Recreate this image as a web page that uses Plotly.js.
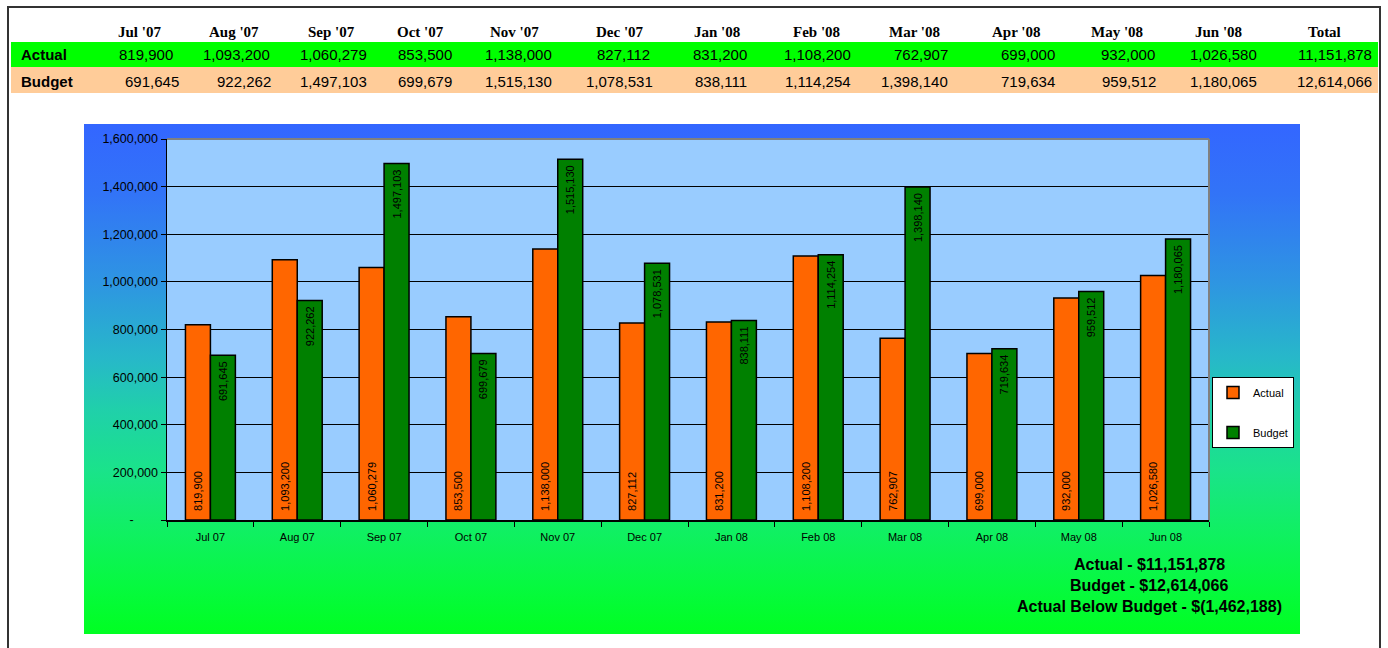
<!DOCTYPE html>
<html>
<head>
<meta charset="utf-8">
<script src="https://cdn.plot.ly/plotly-3.0.1.min.js"></script>
<style>
  html, body { margin: 0; padding: 0; background: #ffffff; }
  #wrap { position: relative; width: 1388px; height: 648px; overflow: hidden; background: #ffffff; }
  #frame { position: absolute; left: 7px; top: 6px; width: 1370px; height: 660px; border: 2px solid #333333; }
  #grad { position: absolute; left: 84px; top: 124px; width: 1216px; height: 510px;
          background: linear-gradient(to bottom, #3366FF 0%, #3274F7 14%, #2E95E2 31%, #27B8C9 46%, #20D0AA 56%, #1AE38A 68%, #10F062 80%, #06FA3E 91%, #00FF22 100%); }
  #chart { position: absolute; left: 0; top: 0; width: 1388px; height: 648px; }
</style>
</head>
<body>
<div id="wrap">
  <div id="frame"></div>
  <div id="grad"></div>
  <div id="chart"></div>
</div>
<script>
// ---- data ----
var months = ["Jul 07", "Aug 07", "Sep 07", "Oct 07", "Nov 07", "Dec 07", "Jan 08", "Feb 08", "Mar 08", "Apr 08", "May 08", "Jun 08"];
var tableHeaders = ["Jul '07", "Aug '07", "Sep '07", "Oct '07", "Nov '07", "Dec '07", "Jan '08", "Feb '08", "Mar '08", "Apr '08", "May '08", "Jun '08", "Total"];
var actual = [819900, 1093200, 1060279, 853500, 1138000, 827112, 831200, 1108200, 762907, 699000, 932000, 1026580];
var budget = [691645, 922262, 1497103, 699679, 1515130, 1078531, 838111, 1114254, 1398140, 719634, 959512, 1180065];
var yTickVals = [0, 200000, 400000, 600000, 800000, 1000000, 1200000, 1400000, 1600000];
var yTickText = ["-\u00a0\u00a0\u00a0\u00a0\u00a0\u00a0\u00a0", "200,000", "400,000", "600,000", "800,000", "1,000,000", "1,200,000", "1,400,000", "1,600,000"];

// ---- layout helpers (pixel -> paper) ----
var L = 167, R = 1209, T = 139, B = 520;
function px(x) { return (x - L) / (R - L); }
function py(y) { return (B - y) / (B - T); }
function fmt(v) { return v.toLocaleString("en-US"); }
var sum = function (a) { return a.reduce(function (s, v) { return s + v; }, 0); };

var totalActual = sum(actual), totalBudget = sum(budget), diff = totalActual - totalBudget;

var headerCenters = [139, 234, 331, 420, 514, 620, 717, 816, 914, 1016, 1117, 1218, 1324];
var actualRight = [175, 272, 369, 454, 554, 652, 749, 853, 950, 1057, 1157, 1259, 1374];
var budgetRight = [181, 273, 369, 454, 554, 655, 749, 853, 950, 1057, 1158, 1259, 1374];

var sans = "Arial, 'Liberation Sans', sans-serif";
var serif = "'Times New Roman', 'Liberation Serif', serif";

var annotations = [];
var actualRow = actual.concat([totalActual]);
var budgetRow = budget.concat([totalBudget]);
tableHeaders.forEach(function (h, i) {
  annotations.push({ xref: "paper", yref: "paper", x: px(headerCenters[i]), y: py(32), xanchor: "center", yanchor: "middle",
    text: "<b>" + h + "</b>", showarrow: false, font: { family: serif, size: 15, color: "#000" } });
  annotations.push({ xref: "paper", yref: "paper", x: px(actualRight[i]), y: py(55), xanchor: "right", yanchor: "middle",
    text: fmt(actualRow[i]), showarrow: false, font: { family: sans, size: 15, color: "#000" } });
  annotations.push({ xref: "paper", yref: "paper", x: px(budgetRight[i]), y: py(81), xanchor: "right", yanchor: "middle",
    text: fmt(budgetRow[i]), showarrow: false, font: { family: sans, size: 15, color: "#000" } });
});
annotations.push({ xref: "paper", yref: "paper", x: px(19), y: py(55), xanchor: "left", yanchor: "middle",
  text: "<b>Actual</b>", showarrow: false, font: { family: sans, size: 15, color: "#000" } });
annotations.push({ xref: "paper", yref: "paper", x: px(19), y: py(81), xanchor: "left", yanchor: "middle",
  text: "<b>Budget</b>", showarrow: false, font: { family: sans, size: 15, color: "#000" } });

var diffText = diff < 0 ? "$(" + fmt(-diff) + ")" : "$" + fmt(diff);
var summary = [
  "Actual - $" + fmt(totalActual),
  "Budget - $" + fmt(totalBudget),
  "Actual Below Budget - " + diffText
];
var summaryY = [564, 585, 606];
summary.forEach(function (s, i) {
  annotations.push({ xref: "paper", yref: "paper", x: px(1149), y: py(summaryY[i]), xanchor: "center", yanchor: "middle",
    text: "<b>" + s + "</b>", showarrow: false, font: { family: sans, size: 16, color: "#000" } });
});

var shapes = [
  { type: "rect", xref: "paper", yref: "paper", x0: px(11), x1: px(1378), y0: py(67), y1: py(42), fillcolor: "#00FF00", line: { width: 0 }, layer: "below" },
  { type: "rect", xref: "paper", yref: "paper", x0: px(11), x1: px(1378), y0: py(93), y1: py(67), fillcolor: "#FFCC99", line: { width: 0 }, layer: "below" },
  { type: "line", xref: "paper", yref: "paper", x0: 0, x1: 1, y0: 1, y1: 1, line: { color: "#808080", width: 2 } },
  { type: "line", xref: "paper", yref: "paper", x0: 1, x1: 1, y0: 0, y1: 1, line: { color: "#808080", width: 2 } }
];

var traces = [
  { type: "bar", name: "Actual", x: months, y: actual, legendgroup: "a",
    marker: { color: "#FF6600", line: { color: "#000000", width: 1.5 } },
    text: actual.map(function (v) { return "\u00a0\u00a0" + fmt(v); }), textposition: "inside", insidetextanchor: "start", textangle: -90,
    textfont: { family: sans, size: 11, color: "#000" }, hoverinfo: "x+y" },
  { type: "bar", name: "Budget", x: months, y: budget, legendgroup: "b",
    marker: { color: "#008000", line: { color: "#000000", width: 1.5 } },
    text: budget.map(function (v) { return fmt(v) + "\u00a0"; }), textposition: "inside", insidetextanchor: "end", textangle: -90,
    textfont: { family: sans, size: 11, color: "#000" }, hoverinfo: "x+y" }
];

var layout = {
  width: 1388, height: 648,
  margin: { l: L, r: 1388 - R, t: T, b: 648 - B, pad: 0 },
  paper_bgcolor: "rgba(0,0,0,0)",
  plot_bgcolor: "#99CCFF",
  barmode: "group", bargap: 0.425, bargroupgap: 0,
  showlegend: true,
  legend: { x: px(1212), y: py(377), xanchor: "left", yanchor: "top", bgcolor: "#FFFFFF",
    bordercolor: "#000000", borderwidth: 1, font: { family: sans, size: 11, color: "#000" },
    traceorder: "grouped", tracegroupgap: 21, itemwidth: 30 },
  xaxis: { type: "category", tickson: "boundaries", ticks: "outside", ticklen: 5, tickcolor: "#000",
    showline: true, linecolor: "#000", linewidth: 1.5, showgrid: false, zeroline: false,
    ticklabelstandoff: 6,
    tickfont: { family: sans, size: 11, color: "#000" } },
  yaxis: { range: [0, 1600000], tickvals: yTickVals, ticktext: yTickText, ticks: "outside", ticklen: 5, tickcolor: "#000",
    showline: true, linecolor: "#000", linewidth: 1.5, showgrid: true, gridcolor: "#000", gridwidth: 1, zeroline: false,
    tickfont: { family: sans, size: 12.5, color: "#000" } },
  annotations: annotations,
  shapes: shapes,
  font: { family: sans }
};

Plotly.newPlot("chart", traces, layout, { displayModeBar: false, staticPlot: true });
</script>
</body>
</html>
